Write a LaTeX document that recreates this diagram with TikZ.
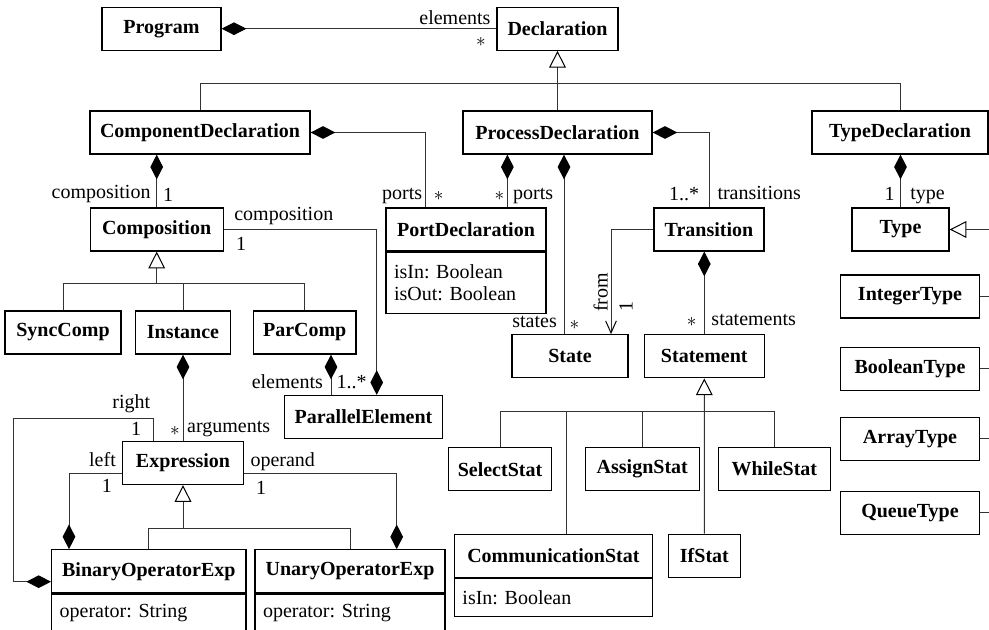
\documentclass[tikz,border=0pt]{standalone}
\usepackage{fontspec}
\setmainfont{Liberation Serif}
\usetikzlibrary{arrows.meta, calc}

\tikzset{
	cls/.style={draw, line width=1pt, font=\fontsize{15}{16}\selectfont\bfseries, minimum height=32.25pt, inner sep=0pt},
	attr/.style={draw, line width=1pt, anchor=north, align=left, inner xsep=6pt},
	conn/.style={draw=black!80, line width=0.75pt},
	dcomp/.style={conn, {Diamond[length=18.5pt, width=9.5pt, color=black]}-},
	gen/.style={conn, -{Triangle[open, length=12.5pt, width=12.5pt, color=black]}},
	nav/.style={conn, -{Straight Barb[length=9pt, width=8pt, color=black]}},
	lbl/.style={inner sep=2pt}
}
\newcommand{\umlclass}[5]{
	\node[cls, minimum width=#4] (#1) at (#2,#3) {#5};
}

\begin{document}
\frenchspacing
\begin{tikzpicture}[x=0.75pt, y=-0.75pt, font=\fontsize{15}{16}\selectfont]

	\useasboundingbox (0,0) rectangle (989,630);
	\clip (0,0) rectangle (989,630);

	% classes
	\umlclass{program}     {161.5}{28.7} {89.25pt} {Program}
	\umlclass{decl}        {557.5}{28.7} {90.75pt} {Declaration}
	\umlclass{compDecl}    {200}  {132.5}{165pt}   {ComponentDeclaration}
	\umlclass{procDecl}    {557.5}{132.5}{141.75pt}{ProcessDeclaration}
	\umlclass{typeDecl}    {900}  {132.5}{132pt}   {TypeDeclaration}
	\umlclass{composition} {156.7}{229.5}{99.75pt} {Composition}
	\umlclass{portDecl}    {466}  {229.5}{120pt}   {PortDeclaration}
	\umlclass{transition}  {709}  {229.5}{82.5pt}  {Transition}
	\umlclass{type}        {900.5}{229.5}{72.75pt} {Type}
	\umlclass{integerType} {910}  {296.5}{104pt}   {IntegerType}
	\umlclass{booleanType} {910}  {369}  {104pt}   {BooleanType}
	\umlclass{arrayType}   {910}  {438.7}{104pt}   {ArrayType}
	\umlclass{queueType}   {910}  {512.8}{104pt}   {QueueType}
	\umlclass{syncComp}    {63}   {332.5}{87pt}    {SyncComp}
	\umlclass{instance}    {183}  {332.5}{71pt}    {Instance}
	\umlclass{parComp}     {304.7}{332.5}{77pt}    {ParComp}
	\umlclass{parElem}     {363.5}{417}  {118.8pt} {ParallelElement}
	\umlclass{state}       {570}  {356.3}{86.8pt}  {State}
	\umlclass{statement}   {704.3}{356.3}{90pt}    {Statement}
	\umlclass{expression}  {183}  {463}  {90.5pt}  {Expression}
	\umlclass{selectStat}  {500}  {469.2}{77.25pt} {SelectStat}
	\umlclass{assignStat}  {642.3}{469.2}{85.7pt}  {AssignStat}
	\umlclass{whileStat}   {774.3}{469.2}{83.9pt}  {WhileStat}
	\umlclass{commStat}    {553.4}{555.7}{148.4pt} {CommunicationStat}
	\umlclass{ifStat}      {704.4}{555.7}{53.7pt}  {IfStat}
	\umlclass{binExp}      {148.8}{571.3}{145.7pt} {BinaryOperatorExp}
	\umlclass{unExp}       {350}  {571.3}{142.5pt} {UnaryOperatorExp}

	% attribute compartments
	\node[attr, text width=108pt, minimum height=45.75pt] (portDeclAttr) at (portDecl.south) {isIn: Boolean\\isOut: Boolean};
	\node[attr, text width=136.4pt, minimum height=28.3pt] (commStatAttr) at (commStat.south) {isIn: Boolean};
	\node[attr, text width=133.7pt, text height=11pt, text depth=30pt, inner ysep=6.5pt] (binExpAttr) at (binExp.south) {operator: String};
	\node[attr, text width=130.5pt, text height=11pt, text depth=30pt, inner ysep=6.5pt] (unExpAttr) at (unExp.south) {operator: String};

	% helper points
	\coordinate (declJoin)  at ($(procDecl.north)+(0,-26.7)$);
	\coordinate (portTop)   at ($(portDecl.north west)+(40,0)$);
	\coordinate (portTop2)  at ($(portDecl.north east)+(-39.3,0)$);
	\coordinate (stateTop)  at ($(state.north)+(-6,0)$);
	\coordinate (fromEnd)   at ($(state.north)+(41,0)$);
	\coordinate (peTop)     at ($(parElem.north)+(13.2,0)$);
	\coordinate (peTop2)    at ($(parElem.north)+(-32.5,0)$);
	\coordinate (compJoin)  at ($(composition.south)+(0,32.3)$);
	\coordinate (stmtJoin)  at ($(statement.south)+(0,33)$);
	\coordinate (commTop)   at ($(commStat.north)+(12.9,0)$);
	\coordinate (exprJoin)  at ($(expression.south)+(0,43.4)$);
	\coordinate (exprLeft)  at ($(expression.west)+(0,11)$);
	\coordinate (exprRight) at ($(expression.east)+(0,11)$);
	\coordinate (binTop)    at ($(binExp.north)+(-79.8,0)$);
	\coordinate (unTop)     at ($(unExp.north)+(46.7,0)$);
	\coordinate (binSide)   at ($(binExp.west)+(0,10.4)$);
	\coordinate (exprTop)   at ($(expression.north)+(-29.7,0)$);
	\coordinate (loopCorner) at (13.3,419);
	\coordinate (typeBus)   at (990,229.5);

	% program and declarations
	\draw[dcomp] (program.east) -- (decl.west)
		node[lbl, anchor=base east, xshift=-2pt, yshift=3.5pt] {elements}
		node[lbl, anchor=base east, xshift=-5.5pt, yshift=-13.5pt] {$\ast$};
	\draw[gen] (procDecl.north) -- (decl.south);
	\draw[conn] (compDecl.north) |- (declJoin) -| (typeDecl.north);

	% component declaration
	\draw[dcomp] (composition.north |- compDecl.south) -- (composition.north)
		node[lbl, anchor=base east, xshift=-2.25pt, yshift=6.75pt] {composition}
		node[lbl, anchor=base west, xshift=2.5pt, yshift=4pt] {1};
	\draw[dcomp] (compDecl.east) -| (portTop)
		node[lbl, anchor=base east, yshift=6pt] {ports}
		node[lbl, anchor=base west, xshift=4pt, yshift=4.75pt] {$\ast$};

	% process declaration
	\draw[dcomp] (portTop2 |- procDecl.south) -- (portTop2)
		node[lbl, anchor=base east, yshift=4.75pt] {$\ast$}
		node[lbl, anchor=base west, xshift=2pt, yshift=6pt] {ports};
	\draw[dcomp] (stateTop |- procDecl.south) -- (stateTop)
		node[lbl, anchor=base east, xshift=-3pt, yshift=5pt] {states}
		node[lbl, anchor=base west, xshift=1.75pt, yshift=3.75pt] {$\ast$};
	\draw[dcomp] (procDecl.east) -| (transition.north)
		node[lbl, anchor=base east, xshift=-5pt, yshift=4.75pt] {1..*}
		node[lbl, anchor=base west, xshift=4pt, yshift=6pt] {transitions};

	% type declaration
	\draw[dcomp] (type.north |- typeDecl.south) -- (type.north)
		node[lbl, anchor=base east, xshift=-2pt, yshift=4.75pt] {1}
		node[lbl, anchor=base west, xshift=5pt, yshift=6pt] {type};
	\draw[gen] (typeBus) -- (type.east);
	\draw[conn] (integerType.east) -- (integerType.east -| typeBus);
	\draw[conn] (booleanType.east) -- (booleanType.east -| typeBus);
	\draw[conn] (arrayType.east) -- (arrayType.east -| typeBus);
	\draw[conn] (queueType.east) -- (queueType.east -| typeBus);

	% transition
	\draw[nav] (transition.west) -| (fromEnd)
		node[lbl, pos=.908, rotate=90, anchor=south west] {from}
		node[lbl, pos=.908, rotate=90, anchor=north west, inner ysep=6pt] {1};
	\draw[dcomp] (statement.north |- transition.south) -- (statement.north)
		node[lbl, anchor=base east, xshift=-3.5pt, yshift=6pt] {$\ast$}
		node[lbl, anchor=base west, xshift=3pt, yshift=6.25pt] {statements};

	% composition
	\draw[dcomp] (peTop) |- (composition.east)
		node[lbl, anchor=base west, xshift=5.5pt, yshift=7pt] {composition}
		node[lbl, anchor=base west, xshift=6.75pt, yshift=-15.5pt] {1};
	\draw[gen] (compJoin) -- (composition.south);
	\draw[conn] (syncComp.north) |- (compJoin) -| (parComp.north);
	\draw[conn] (instance.north) |- (compJoin);
	\draw[dcomp] (peTop2 |- parComp.south) -- (peTop2)
		node[lbl, anchor=base east, xshift=-3.75pt, yshift=5pt] {elements}
		node[lbl, anchor=base west, xshift=1.75pt, yshift=5pt] {1..*};
	\draw[dcomp] (instance.south) -- (expression.north)
		node[lbl, anchor=base east, yshift=3.75pt] {$\ast$}
		node[lbl, anchor=base west, xshift=0.75pt, yshift=6.3pt] {arguments};

	% statements
	\draw[gen] (ifStat.north) -- (statement.south);
	\draw[conn] (selectStat.north) |- (stmtJoin) -| (whileStat.north);
	\draw[conn] (assignStat.north) |- (stmtJoin);
	\draw[conn] (commTop) |- (stmtJoin);

	% expressions
	\draw[gen] (exprJoin) -- (expression.south);
	\draw[conn] (binExp.north) |- (exprJoin) -| (unExp.north);
	\draw[dcomp] (binTop) |- (exprLeft)
		node[lbl, anchor=base east, xshift=-2.25pt, yshift=5.5pt] {left}
		node[lbl, anchor=base east, xshift=-5.25pt, yshift=-14.25pt] {1};
	\draw[dcomp] (unTop) |- (exprRight)
		node[lbl, anchor=base west, xshift=2.5pt, yshift=5.5pt] {operand}
		node[lbl, anchor=base west, xshift=6.75pt, yshift=-15.75pt] {1};
	\draw[dcomp] (binSide) -| (loopCorner) -|
		node[lbl, pos=.5, anchor=base east, yshift=7.5pt] {right}
		node[lbl, pos=.5, anchor=base east, xshift=-6.75pt, yshift=-12.75pt] {1}
		(exprTop);

\end{tikzpicture}
\end{document}
